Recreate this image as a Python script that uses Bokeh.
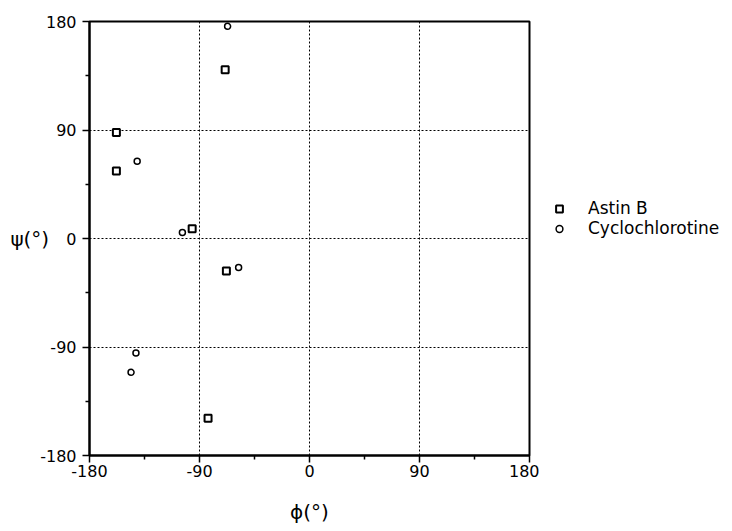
from bokeh.plotting import figure
from bokeh.layouts import row
from bokeh.models import Range1d, FixedTicker, Legend, LegendItem
from bokeh.embed import file_html
from bokeh.resources import INLINE

# Data (phi, psi) in degrees
astin_phi = [-158, -158, -69, -96, -68, -83]
astin_psi = [88, 56, 140, 8, -27, -149]
cyclo_phi = [-67, -141, -104, -58, -142, -146]
cyclo_psi = [176, 64, 5, -24, -95, -111]

series_names = ["Astin B", "Cyclochlorotine"]
major = [-180, -90, 0, 90, 180]
minor = [-135, -45, 45, 135]
tick_labels = {-180: "-180", -90: "-90", 0: "0", 90: "90", 180: "180"}

FONT = "DejaVu Sans"

p = figure(frame_width=440, frame_height=434, output_backend="svg", toolbar_location=None,
           x_range=Range1d(-180, 180), y_range=Range1d(-180, 180),
           min_border_left=89, min_border_right=10, min_border_top=21,
           min_border_bottom=74)
p.background_fill_color = "white"
p.border_fill_color = "white"
p.outline_line_color = "black"
p.outline_line_width = 2

for ax in (p.xaxis[0], p.yaxis[0]):
    ax.ticker = FixedTicker(ticks=major, minor_ticks=minor)
    ax.major_label_overrides = tick_labels
    ax.axis_line_width = 2
    ax.axis_line_color = "black"
    ax.major_tick_line_color = "black"
    ax.major_tick_line_width = 1.5
    ax.minor_tick_line_color = "black"
    ax.minor_tick_line_width = 1.5
    ax.major_tick_in = 0
    ax.major_tick_out = 7
    ax.minor_tick_in = 0
    ax.minor_tick_out = 4
    ax.major_label_text_font = FONT
    ax.major_label_text_font_size = "16px"
    ax.major_label_text_color = "black"
    ax.axis_label_text_font = FONT
    ax.axis_label_text_font_size = "20px"
    ax.axis_label_text_font_style = "normal"
    ax.axis_label_text_color = "black"

p.yaxis.major_label_standoff = 6
p.yaxis.axis_label = "ψ(°)"
p.yaxis.axis_label_orientation = "horizontal"
p.yaxis.axis_label_standoff = -12
p.xaxis.major_label_standoff = 2
p.xaxis.axis_label = "ϕ(°)"
p.xaxis.axis_label_standoff = 20

for g in (p.xgrid[0], p.ygrid[0]):
    g.ticker = FixedTicker(ticks=major)
    g.grid_line_color = "black"
    g.grid_line_dash = "2 2"
    g.grid_line_width = 1
    g.grid_line_alpha = 1

p.scatter(astin_phi, astin_psi, marker="square", size=7,
          fill_color="white", line_color="black", line_width=2)
p.scatter(cyclo_phi, cyclo_psi, marker="circle", size=6,
          fill_color="white", line_color="black", line_width=1.5)

# Legend panel on the right (separate area outside the plot frame);
# its renderers use the same data, which falls outside this panel's ranges.
H = 21 + 434 + 74
q = figure(width=190, height=H, output_backend="svg", toolbar_location=None,
           x_range=Range1d(0, 1), y_range=Range1d(0, 1),
           x_axis_type=None, y_axis_type=None,
           min_border_left=0, min_border_right=0, min_border_top=0, min_border_bottom=0)
q.outline_line_color = None
q.background_fill_color = "white"
q.border_fill_color = "white"
q.xgrid.visible = False
q.ygrid.visible = False
l1 = q.scatter(astin_phi, astin_psi, marker="square", size=7,
               fill_color="white", line_color="black", line_width=2)
l2 = q.scatter(cyclo_phi, cyclo_psi, marker="circle", size=6,
               fill_color="white", line_color="black", line_width=1.5)

legend = Legend(items=[LegendItem(label=series_names[0], renderers=[l1]),
                       LegendItem(label=series_names[1], renderers=[l2])],
                location=(10, 217), orientation="vertical")
legend.border_line_color = None
legend.background_fill_alpha = 0
legend.margin = 0
legend.padding = 2
legend.spacing = 0
legend.glyph_width = 20
legend.glyph_height = 17
legend.label_height = 17
legend.label_standoff = 19
legend.label_text_font = FONT
legend.label_text_font_size = "17px"
legend.label_text_color = "black"
legend.label_text_baseline = "middle"
q.add_layout(legend)

layout = row(p, q, spacing=0)
open("out.html", "w").write(file_html(layout, INLINE))
